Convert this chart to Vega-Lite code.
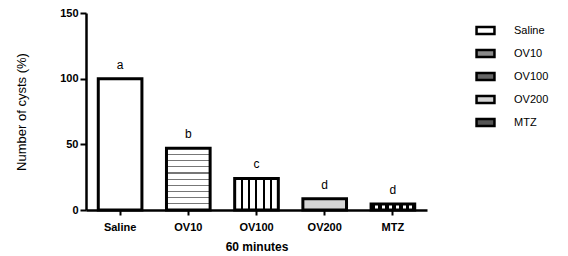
{
  "$schema": "https://vega.github.io/schema/vega-lite/v6.json",
  "autosize": {"type": "none"},
  "width": 341,
  "height": 197,
  "padding": {"left": 86, "top": 13, "right": 141, "bottom": 46},
  "config": {
    "view": {"stroke": null},
    "font": "Liberation Sans",
    "axis": {"domainColor": "black", "domainWidth": 2.5, "tickColor": "black", "tickWidth": 2, "grid": false, "labelColor": "black", "titleColor": "black"}
  },
  "data": {"values": [
    {"group": "Saline", "value": 100, "label": "a"},
    {"group": "OV10", "value": 47, "label": "b"},
    {"group": "OV100", "value": 24, "label": "c"},
    {"group": "OV200", "value": 8.5, "label": "d"},
    {"group": "MTZ", "value": 4.5, "label": "d"}
  ]},
  "layer": [
    {
      "mark": {"type": "bar", "stroke": "black", "strokeWidth": 3},
      "encoding": {
        "x": {"field": "group", "type": "nominal", "sort": null,
          "scale": {"paddingInner": 0.36, "paddingOuter": 0.18},
          "axis": {"title": "60 minutes", "labelAngle": 0, "labelFontWeight": "bold", "labelFontSize": 11, "labelPadding": 6, "tickSize": 5, "titleFontSize": 12, "titleFontWeight": "bold", "titlePadding": 9}},
        "y": {"field": "value", "type": "quantitative",
          "scale": {"domain": [0, 150], "nice": false},
          "axis": {"title": "Number of cysts (%)", "values": [0, 50, 100, 150], "labelFontWeight": "bold", "labelFontSize": 11, "tickSize": 6, "labelPadding": 2, "titleFontSize": 13, "titleFontWeight": "normal", "titlePadding": 31}},
        "fill": {"field": "group", "type": "nominal", "sort": null,
          "scale": {"domain": ["Saline", "OV10", "OV100", "OV200", "MTZ"], "range": ["white", "#8a8a8a", "#666666", "#d4d4d4", "#555555"]},
          "condition": [
            {"test": "datum.group === 'OV10'", "value": {"gradient": "linear", "x1": 0, "y1": 0, "x2": 0, "y2": 1, "stops": [
              {"offset": 0, "color": "white"}, {"offset": 0.09, "color": "white"}, {"offset": 0.09, "color": "#777"}, {"offset": 0.11, "color": "#777"}, {"offset": 0.11, "color": "white"},
              {"offset": 0.19, "color": "white"}, {"offset": 0.19, "color": "#777"}, {"offset": 0.21, "color": "#777"}, {"offset": 0.21, "color": "white"},
              {"offset": 0.29, "color": "white"}, {"offset": 0.29, "color": "#777"}, {"offset": 0.31, "color": "#777"}, {"offset": 0.31, "color": "white"},
              {"offset": 0.39, "color": "white"}, {"offset": 0.39, "color": "#777"}, {"offset": 0.41, "color": "#777"}, {"offset": 0.41, "color": "white"},
              {"offset": 0.49, "color": "white"}, {"offset": 0.49, "color": "#777"}, {"offset": 0.51, "color": "#777"}, {"offset": 0.51, "color": "white"},
              {"offset": 0.59, "color": "white"}, {"offset": 0.59, "color": "#777"}, {"offset": 0.61, "color": "#777"}, {"offset": 0.61, "color": "white"},
              {"offset": 0.69, "color": "white"}, {"offset": 0.69, "color": "#777"}, {"offset": 0.71, "color": "#777"}, {"offset": 0.71, "color": "white"},
              {"offset": 0.79, "color": "white"}, {"offset": 0.79, "color": "#777"}, {"offset": 0.81, "color": "#777"}, {"offset": 0.81, "color": "white"},
              {"offset": 0.89, "color": "white"}, {"offset": 0.89, "color": "#777"}, {"offset": 0.91, "color": "#777"}, {"offset": 0.91, "color": "white"},
              {"offset": 1, "color": "white"}
            ]}},
            {"test": "datum.group === 'OV100'", "value": {"gradient": "linear", "x1": 0, "y1": 0, "x2": 1, "y2": 0, "stops": [
              {"offset": 0, "color": "white"}, {"offset": 0.145, "color": "white"}, {"offset": 0.145, "color": "black"}, {"offset": 0.19, "color": "black"}, {"offset": 0.19, "color": "white"},
              {"offset": 0.31, "color": "white"}, {"offset": 0.31, "color": "black"}, {"offset": 0.355, "color": "black"}, {"offset": 0.355, "color": "white"},
              {"offset": 0.475, "color": "white"}, {"offset": 0.475, "color": "black"}, {"offset": 0.52, "color": "black"}, {"offset": 0.52, "color": "white"},
              {"offset": 0.645, "color": "white"}, {"offset": 0.645, "color": "black"}, {"offset": 0.69, "color": "black"}, {"offset": 0.69, "color": "white"},
              {"offset": 0.81, "color": "white"}, {"offset": 0.81, "color": "black"}, {"offset": 0.855, "color": "black"}, {"offset": 0.855, "color": "white"},
              {"offset": 1, "color": "white"}
            ]}},
            {"test": "datum.group === 'MTZ'", "value": {"gradient": "linear", "x1": 0, "y1": 0, "x2": 1, "y2": 0, "stops": [
              {"offset": 0, "color": "black"}, {"offset": 0.08, "color": "black"}, {"offset": 0.08, "color": "white"}, {"offset": 0.16, "color": "white"}, {"offset": 0.16, "color": "black"},
              {"offset": 0.24, "color": "black"}, {"offset": 0.24, "color": "white"}, {"offset": 0.32, "color": "white"}, {"offset": 0.32, "color": "black"},
              {"offset": 0.4, "color": "black"}, {"offset": 0.4, "color": "white"}, {"offset": 0.48, "color": "white"}, {"offset": 0.48, "color": "black"},
              {"offset": 0.56, "color": "black"}, {"offset": 0.56, "color": "white"}, {"offset": 0.64, "color": "white"}, {"offset": 0.64, "color": "black"},
              {"offset": 0.72, "color": "black"}, {"offset": 0.72, "color": "white"}, {"offset": 0.8, "color": "white"}, {"offset": 0.8, "color": "black"},
              {"offset": 0.88, "color": "black"}, {"offset": 0.88, "color": "white"}, {"offset": 0.94, "color": "white"}, {"offset": 0.94, "color": "black"},
              {"offset": 1, "color": "black"}
            ]}}
          ],
          "legend": {"title": null, "orient": "right", "offset": 41, "symbolType": "M-1.3,-0.5H1.3V0.5H-1.3Z", "symbolSize": 190, "labelFontSize": 11, "labelColor": "black", "rowPadding": 6, "labelOffset": 20, "padding": 9,
            "encoding": {"symbols": {
              "stroke": {"value": "black"},
              "strokeWidth": {"value": 2.5}
            }}}}
      }
    },
    {
      "mark": {"type": "text", "dy": -10, "fontSize": 12, "fill": "black", "baseline": "alphabetic"},
      "encoding": {
        "x": {"field": "group", "type": "nominal", "sort": null},
        "y": {"field": "value", "type": "quantitative"},
        "text": {"field": "label"}
      }
    }
  ]
}
